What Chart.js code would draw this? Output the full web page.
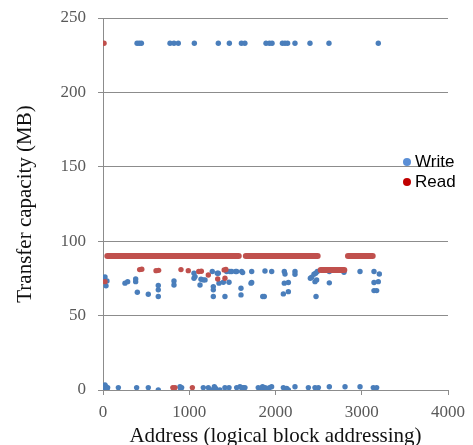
<!DOCTYPE html>
<html>
<head>
<meta charset="utf-8">
<script src="https://cdn.jsdelivr.net/npm/chart.js@4"></script>
<style>
  body { margin: 0; background: #fff; }
  #wrap { position: relative; width: 473px; height: 445px; }
  #legend { position: absolute; left: 403px; top: 152px; font: 17px "Liberation Sans", Arial, sans-serif; color: #000; }
  #legend div { height: 20px; line-height: 20px; white-space: nowrap; }
  #legend span.dot { display: inline-block; width: 8px; height: 8px; border-radius: 50%; margin-right: 4px; vertical-align: 1px; }
</style>
</head>
<body>
<div id="wrap">
  <canvas id="chart" width="473" height="445"></canvas>
  <div id="legend"></div>
</div>
<script>
const xTicks = [0, 1000, 2000, 3000, 4000];
const yTicks = [0, 50, 100, 150, 200, 250];

// Write points
const writeX = [
  395, 420, 445, 777, 823, 873, 1059, 1337, 1465, 1605, 1645, 1890, 1930, 1960, 2080, 2110, 2140, 2226, 2400, 2620, 3192,
  15, 23, 46, 35, 255, 286, 379, 379, 398, 525, 641, 641, 641, 823, 823,
  1055, 1067, 1055, 1136, 1163, 1125, 1183, 1267, 1325, 1337, 1345, 1395, 1461,
  1434, 1472, 1492, 1538, 1550, 1608, 1619, 1724, 1878, 1956, 2102, 2110, 2226, 2226,
  2404, 2420, 2446, 2466, 2485, 2458, 2477,
  1279, 1279, 1279, 1414, 1600, 1600, 1716, 1724, 1870, 1852,
  2102, 2149, 2091, 2149, 2470,
  2624, 2794, 2980, 3142, 3204, 2624, 3142, 3192, 3142, 3173,
  15, 23, 35, 54, 45, 178, 390, 525, 641, 893, 912, 900,
  1163, 1221, 1260, 1291, 1306, 1356, 1414, 1461, 1550, 1588, 1608, 1627, 1646,
  1800, 1830, 1850, 1860, 1880, 1900, 1930, 1955,
  2091, 2130, 2149, 2226, 2381, 2458, 2497, 2624, 2806, 2980, 3134, 3154, 3173
];
const writeY = [
  233, 233, 233, 233, 233, 233, 233, 233, 233, 233, 233, 233, 233, 233, 233, 233, 233, 233, 233, 233, 233,
  75.5, 76, 73.3, 70, 71.8, 72.8, 74.6, 72.8, 65.7, 64.3, 70.2, 67.3, 62.8, 73.3, 70.6,
  78.5, 76.2, 75.1, 74.4, 74, 70.6, 74, 79.6, 78.5, 78.5, 71.8, 72.4, 72.4,
  79.6, 79.6, 79.6, 79.6, 79.6, 79.6, 78.9, 79.6, 80, 79.6, 79.6, 78, 79.6, 77.8,
  75.1, 75.8, 77.8, 78.5, 79.6, 72.8, 74,
  69.5, 67.3, 62.8, 62.8, 68.4, 63.9, 71.8, 72.2, 62.8, 62.8,
  71.8, 72.2, 64.6, 66.1, 62.8,
  79.6, 79.1, 79.6, 79.6, 78, 72, 72.2, 72.8, 66.8, 66.8,
  0, 3.4, 2.2, 1.6, 0.7, 1.6, 1.6, 1.6, 0, 2.2, 1.6, 1,
  1.6, 1.6, 0, 2.2, 1.1, 0, 1.6, 1.6, 1.6, 2.2, 1.6, 1.6, 1.6,
  1.6, 1.1, 2.2, 0.5, 1.6, 0, 1.6, 2.2,
  1.6, 1.1, 0, 2.2, 1.6, 1.6, 1.6, 2.2, 2.2, 2.2, 1.6, 0.7, 1.6
];

// Read points
const readX = [12, 23, 425, 450, 615, 645, 904, 989, 1110, 1140, 1221, 1330, 1405, 1425, 1414, 810, 835, 1036];
const readY = [233, 72.8, 80.9, 81.1, 80.2, 80.4, 80.9, 80.2, 79.6, 79.8, 77.3, 74.6, 80.7, 81, 75.1, 1.6, 1.6, 1.6];

// Read runs of dense points (start, end, level)
const readRunStart = [50, 1656, 2840, 2524];
const readRunEnd = [1574, 2489, 3127, 2798];
const readRunLevel = [90.1, 90.1, 90.1, 80.7];

const blue = '#4A7EBB';
const red = '#C0504D';
const gridColor = '#8C8C8C';
const tickColor = '#595959';

const toPoints = (xs, ys) => xs.map((x, i) => ({ x: x, y: ys[i] }));

const datasets = [
  {
    label: 'Write',
    data: toPoints(writeX, writeY),
    backgroundColor: blue,
    legendColor: '#5B8FD6',
    pointRadius: 2.7,
    pointBorderWidth: 0,
    order: 2
  },
  {
    label: 'Read',
    data: toPoints(readX, readY),
    backgroundColor: red,
    legendColor: '#C00000',
    pointRadius: 2.7,
    pointBorderWidth: 0,
    order: 1
  }
];

readRunStart.forEach((s, i) => {
  datasets.push({
    label: 'Read',
    legendHidden: true,
    data: [{ x: s, y: readRunLevel[i] }, { x: readRunEnd[i], y: readRunLevel[i] }],
    showLine: true,
    borderColor: red,
    borderWidth: 6,
    borderCapStyle: 'round',
    pointRadius: 0,
    order: 0
  });
});

const serif = '"Liberation Serif", "Times New Roman", serif';

new Chart(document.getElementById('chart'), {
  type: 'scatter',
  data: { datasets: datasets },
  options: {
    responsive: false,
    animation: false,
    layout: { padding: { top: 18, right: 25, left: 0, bottom: 0 } },
    plugins: {
      legend: { display: false },
      tooltip: { enabled: false }
    },
    scales: {
      x: {
        type: 'linear',
        min: 0,
        max: 4000,
        afterBuildTicks: (scale) => { scale.ticks = xTicks.map(v => ({ value: v })); },
        afterFit: (scale) => { scale.height = 55; },
        ticks: { color: tickColor, font: { family: serif, size: 17 }, padding: 7, callback: (v) => String(v) },
        grid: { drawOnChartArea: false, drawTicks: true, tickLength: 5, color: gridColor },
        border: { color: gridColor },
        title: {
          display: true,
          text: 'Address (logical block addressing)',
          color: '#111',
          font: { family: serif, size: 21, lineHeight: 1 },
          padding: { top: 0, bottom: -2 }
        }
      },
      y: {
        min: 0,
        max: 250,
        afterBuildTicks: (scale) => { scale.ticks = yTicks.map(v => ({ value: v })); },
        afterFit: (scale) => {
          scale.width = 103;
          scale.paddingTop = 0;
          scale.paddingBottom = 0;
        },
        ticks: { color: tickColor, font: { family: serif, size: 17 }, padding: 12, callback: (v) => String(v) },
        grid: { color: gridColor, tickLength: 5 },
        border: { color: gridColor },
        title: {
          display: true,
          text: 'Transfer capacity (MB)',
          color: '#111',
          font: { family: serif, size: 21, lineHeight: 1 },
          padding: { top: 15, bottom: 0 }
        }
      }
    }
  }
});

// HTML legend from the dataset labels
const legend = document.getElementById('legend');
datasets.filter(d => !d.legendHidden).forEach(d => {
  const row = document.createElement('div');
  const dot = document.createElement('span');
  dot.className = 'dot';
  dot.style.background = d.legendColor;
  row.appendChild(dot);
  row.appendChild(document.createTextNode(d.label));
  legend.appendChild(row);
});
</script>
</body>
</html>
